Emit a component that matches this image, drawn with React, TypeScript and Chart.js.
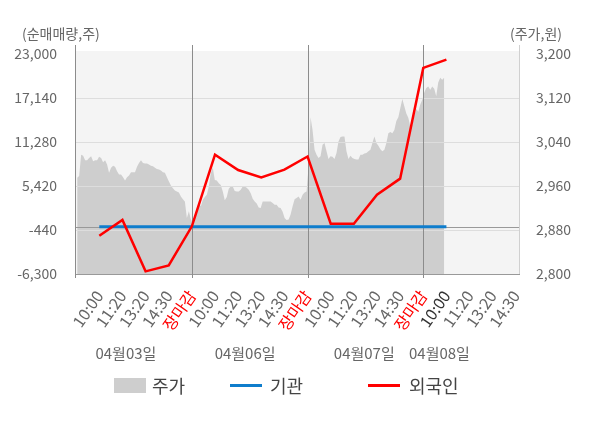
import React, { useEffect, useRef } from 'react';
import { Chart, registerables } from 'chart.js';

Chart.register(...registerables);

const FONT = "'Noto Sans CJK KR', 'Noto Sans', sans-serif";

const X_LABELS = [
  '10:00', '11:20', '13:20', '14:30', '장마감',
  '10:00', '11:20', '13:20', '14:30', '장마감',
  '10:00', '11:20', '13:20', '14:30', '장마감',
  '10:00', '11:20', '13:20', '14:30',
];
const DATES = ['04월03일', '04월06일', '04월07일', '04월08일'];
const LEFT_TICKS = [-6300, -440, 5420, 11280, 17140, 23000];
const RIGHT_TICKS = [2800, 2880, 2960, 3040, 3120, 3200];

// 순매매량 (주) at each label slot
const INSTITUTION = [0, 0, 0, 0, 0, 0, 0, 0, 0, 0, 0, 0, 0, 0, 0, 0];
const FOREIGN = [
  -1200, 900, -5950, -5150, 50,
  9600, 7550, 6550, 7600, 9350,
  400, 400, 4250, 6400, 21150,
  22250,
];

// 주가 (원), intraday samples per session
const PRICE_DAY1 = [
  2975, 2978, 3017, 3015, 3007, 3007, 3011, 3014, 3005, 3007, 3007, 3013, 3011, 3003, 3007,
  2999, 2984, 2993, 2997, 2995, 2987, 2981, 2981, 2976, 2970, 2976, 2979, 2985, 2985, 2985,
  2995, 3002, 3007, 3002, 3001, 3001, 2999, 2997, 2996, 2993, 2991, 2990, 2988, 2985, 2984,
  2976, 2968, 2961, 2956, 2952, 2950, 2948, 2941, 2936, 2932, 2902, 2914, 2899,
];
const PRICE_DAY2 = [
  2893, 2908, 2920, 2929, 2923, 2935, 2940, 2944, 2959, 2984, 2993, 2971, 2970, 2965, 2962,
  2950, 2934, 2940, 2955, 2959, 2959, 2951, 2950, 2950, 2953, 2959, 2959, 2957, 2953, 2947,
  2937, 2932, 2928, 2921, 2920, 2932, 2932, 2932, 2932, 2932, 2929, 2926, 2926, 2921, 2920,
  2913, 2902, 2898, 2899, 2908, 2923, 2936, 2938, 2941, 2935, 2944, 2948, 2950,
];
const PRICE_DAY3 = [
  2996, 3085, 3062, 3026, 3017, 3011, 3014, 3035, 3038, 3023, 3009, 3014, 3013, 3009, 3020,
  3041, 3049, 3050, 3050, 3023, 3009, 3015, 3011, 3009, 3008, 3008, 3017, 3017, 3019, 3020,
  3023, 3026, 3038, 3050, 3038, 3033, 3027, 3023, 3026, 3038, 3056, 3058, 3056, 3062, 3078,
  3085, 3102, 3118, 3105, 3092, 3084, 3068, 3071, 3088, 3100, 3095, 3108, 3117,
];
const PRICE_DAY4 = [3130, 3138, 3141, 3135, 3141, 3137, 3123, 3148, 3157, 3153, 3157];
const PRICE_DAYS = [PRICE_DAY1, PRICE_DAY2, PRICE_DAY3, PRICE_DAY4];

const SLOTS_PER_DAY = 58;
const LABELS_PER_DAY = 5;

const decor = {
  id: 'decor',
  beforeDatasetsDraw(chart: Chart) {
    const { ctx, chartArea: a } = chart;
    ctx.save();
    ctx.fillStyle = '#f4f4f4';
    ctx.fillRect(a.left, a.top - 3, a.right - a.left, a.bottom - a.top + 3);
    ctx.restore();
  },
  afterDatasetDraw(chart: Chart, args: { index: number }) {
    if (args.index !== 0) return;
    const { ctx, chartArea: a, scales } = chart;
    const y = scales.y;
    const x = scales.x;
    const hline = (py: number, color: string) => {
      const yy = Math.round(py) + 0.5;
      ctx.strokeStyle = color;
      ctx.beginPath();
      ctx.moveTo(a.left, yy);
      ctx.lineTo(a.right, yy);
      ctx.stroke();
    };
    const vline = (px: number, y0: number, y1: number, color: string) => {
      const xx = Math.round(px) + 0.5;
      ctx.strokeStyle = color;
      ctx.beginPath();
      ctx.moveTo(xx, y0);
      ctx.lineTo(xx, y1);
      ctx.stroke();
    };
    ctx.save();
    ctx.lineWidth = 1;
    LEFT_TICKS.slice(1, -1).forEach((v) => hline(y.getPixelForValue(v), '#dddddd'));
    hline(y.getPixelForValue(0), '#999999');
    hline(a.bottom - 0.5, '#999999');
    [1, 2, 3].forEach((d) => vline(x.getPixelForValue(d * LABELS_PER_DAY), 45, a.bottom + 4, '#8c8c8c'));
    vline(a.left, 45, a.bottom + 4, '#8c8c8c');
    vline(a.right - 1, 45, a.bottom, '#d0d0d0');
    ctx.restore();
  },
  afterDraw(chart: Chart) {
    const { ctx, scales } = chart;
    ctx.save();
    ctx.fillStyle = '#666';
    ctx.font = `14px ${FONT}`;
    ctx.textBaseline = 'middle';
    ctx.textAlign = 'left';
    ctx.fillText('(순매매량,주)', 22, 34);
    ctx.textAlign = 'right';
    ctx.fillText('(주가,원)', 562, 34);

    ctx.font = `15px ${FONT}`;
    ctx.textAlign = 'center';
    const datePos = [2.15, 7.3, 12.45, 15.7];
    DATES.forEach((d, i) => ctx.fillText(d, scales.x.getPixelForValue(datePos[i]), 353));

    // legend
    ctx.font = `18px ${FONT}`;
    ctx.textAlign = 'left';
    ctx.fillStyle = '#cecece';
    ctx.fillRect(114, 378, 32, 15);
    ctx.lineWidth = 3;
    ctx.strokeStyle = '#0f7dcc';
    ctx.beginPath();
    ctx.moveTo(230, 385.5);
    ctx.lineTo(262, 385.5);
    ctx.stroke();
    ctx.strokeStyle = '#ff0000';
    ctx.beginPath();
    ctx.moveTo(368, 385.5);
    ctx.lineTo(400, 385.5);
    ctx.stroke();
    ctx.fillStyle = '#444';
    ctx.fillText('주가', 152, 386);
    ctx.fillText('기관', 270, 386);
    ctx.fillText('외국인', 409, 386);
    ctx.restore();
  },
};

const App: React.FC = () => {
  const canvasRef = useRef<HTMLCanvasElement | null>(null);

  useEffect(() => {
    if (!canvasRef.current) return;
    const ctx = canvasRef.current.getContext('2d');
    if (!ctx) return;

    const pricePoints = PRICE_DAYS.flatMap((day, d) =>
      day.map((p, i) => ({
        x: d * LABELS_PER_DAY + ((i + 0.5) * LABELS_PER_DAY) / SLOTS_PER_DAY,
        y: p,
      }))
    );
    const netPoints = (arr: number[]) => arr.map((v, i) => ({ x: i + 1, y: v }));
    const tickFont = { family: FONT, size: 14 };

    const chart = new Chart(ctx, {
      type: 'line',
      data: {
        datasets: [
          {
            label: '주가',
            data: pricePoints,
            yAxisID: 'y2',
            borderWidth: 0,
            backgroundColor: '#cecece',
            fill: 'start',
            pointRadius: 0,
            order: 3,
          },
          {
            label: '기관',
            data: netPoints(INSTITUTION),
            yAxisID: 'y',
            borderColor: '#0f7dcc',
            borderWidth: 3,
            pointRadius: 0,
            fill: false,
            order: 2,
          },
          {
            label: '외국인',
            data: netPoints(FOREIGN),
            yAxisID: 'y',
            borderColor: '#ff0000',
            borderWidth: 2.5,
            pointRadius: 0,
            fill: false,
            order: 1,
          },
        ],
      },
      options: {
        animation: false,
        responsive: false,
        maintainAspectRatio: false,
        layout: { padding: { top: 54 } },
        plugins: { legend: { display: false }, tooltip: { enabled: false } },
        scales: {
          x: {
            type: 'linear',
            min: -0.05,
            max: 19.18,
            grid: { display: false },
            border: { display: false },
            afterBuildTicks: (s: any) => {
              s.ticks = X_LABELS.map((_, i) => ({ value: i + 1 }));
            },
            afterFit: (s: any) => {
              s.height = 154;
            },
            ticks: {
              autoSkip: false,
              minRotation: 55,
              maxRotation: 55,
              padding: 5,
              font: { family: FONT, size: 16 },
              color: (c: any) =>
                X_LABELS[c.index] === '장마감' ? '#ff0000' : c.index === 15 ? '#333' : '#666',
              callback: (_v: any, i: number) => X_LABELS[i],
            },
          },
          y: {
            position: 'left',
            min: -6300,
            max: 23000,
            grid: { display: false },
            border: { display: false },
            afterBuildTicks: (s: any) => {
              s.ticks = LEFT_TICKS.map((v) => ({ value: v }));
            },
            afterFit: (s: any) => {
              s.width = 75;
            },
            ticks: {
              padding: 10,
              font: tickFont,
              color: '#666',
              callback: (v: any) => Number(v).toLocaleString('en-US'),
            },
          },
          y2: {
            position: 'right',
            min: 2800,
            max: 3200,
            grid: { display: false },
            border: { display: false },
            afterBuildTicks: (s: any) => {
              s.ticks = RIGHT_TICKS.map((v) => ({ value: v }));
            },
            afterFit: (s: any) => {
              s.width = 80;
            },
            ticks: {
              padding: 8,
              font: tickFont,
              color: '#666',
              callback: (v: any) => Number(v).toLocaleString('en-US'),
            },
          },
        },
      },
      plugins: [decor],
    });

    return () => {
      chart.destroy();
    };
  }, []);

  return (
    <div style={{ position: 'absolute', left: 0, top: 0, width: 600, height: 428, background: '#fff' }}>
      <canvas ref={canvasRef} width={600} height={428} style={{ width: 600, height: 428 }} />
    </div>
  );
};

export default App;
